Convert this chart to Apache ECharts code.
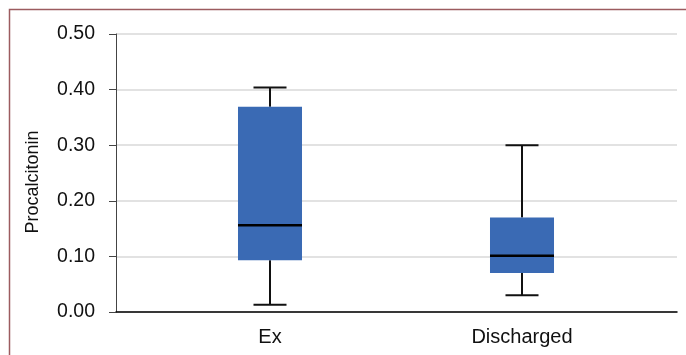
<!DOCTYPE html>
<html><head><meta charset="utf-8">
<script src="https://cdn.jsdelivr.net/npm/echarts@6/dist/echarts.min.js"></script>
<style>html,body{margin:0;padding:0;background:#fff;}#c{width:686px;height:355px;}</style>
</head><body><div id="c"></div>
<script>
const categories = ['Ex', 'Discharged'];
// [min, Q1, median, Q3, max]
const exStats = [0.013, 0.093, 0.156, 0.369, 0.404];
const dischargedStats = [0.030, 0.070, 0.101, 0.170, 0.300];
const yTicks = [0, 0.1, 0.2, 0.3, 0.4, 0.5];
const yTitle = 'Procalcitonin';

const boxData = [exStats, dischargedStats].map((s, i) => [i].concat(s));

const chart = echarts.init(document.getElementById('c'));
const FONT = 'Liberation Sans, Arial, sans-serif';
chart.setOption({
  animation: false,
  backgroundColor: '#fff',
  graphic: [{
    type: 'rect', shape: { x: 9.5, y: 9.5, width: 700, height: 400 },
    style: { fill: 'none', stroke: '#9c5b5f', lineWidth: 1.5 }, silent: true, z: 100
  }, {
    type: 'text', x: 33, y: 182, rotation: Math.PI / 2,
    style: { text: yTitle, fill: '#111', font: '18px Liberation Sans, Arial, sans-serif',
      textAlign: 'center', textVerticalAlign: 'middle', align: 'center', verticalAlign: 'middle' }
  }],
  grid: [
    { left: 116, right: 9, top: 34, bottom: 43 },
    { left: 144, right: 38, top: 34, bottom: 43 }
  ],
  xAxis: [
    { gridIndex: 0, type: 'value', min: 0, max: 1, show: true,
      axisLine: { show: true, onZero: false, lineStyle: { color: '#000', width: 1.5 } },
      axisTick: { show: false }, axisLabel: { show: false }, splitLine: { show: false } },
    { gridIndex: 1, type: 'category', data: categories, boundaryGap: true,
      axisLine: { show: false }, axisTick: { show: false },
      axisLabel: { color: '#111', fontSize: 20, fontFamily: FONT, margin: 15 } }
  ],
  yAxis: [
    { gridIndex: 0, type: 'value', min: 0, max: 0.5, interval: 0.1,
      axisLine: { show: true, lineStyle: { color: '#444', width: 1 } },
      axisTick: { show: true, length: 7, lineStyle: { color: '#444' } },
      axisLabel: { color: '#111', fontSize: 19.5, fontFamily: FONT, margin: 21,
        formatter: v => v.toFixed(2) },
      splitLine: { show: true, lineStyle: { color: '#d9d9d9', width: 1.5 } } },
    { gridIndex: 1, type: 'value', min: 0, max: 0.5, show: false, splitLine: { show: false } }
  ],
  series: [{
    type: 'custom', xAxisIndex: 1, yAxisIndex: 1,
    data: boxData,
    renderItem: function (params, api) {
      const idx = api.value(0);
      const mn = api.value(1), q1 = api.value(2), md = api.value(3), q3 = api.value(4), mx = api.value(5);
      const band = api.size([1, 0])[0];
      const bw = band * 0.254, cw = band * 0.131;
      const pMin = api.coord([idx, mn]), pQ1 = api.coord([idx, q1]), pMd = api.coord([idx, md]);
      const pQ3 = api.coord([idx, q3]), pMax = api.coord([idx, mx]);
      const cx = pMin[0];
      const ls = { stroke: '#111', lineWidth: 2 };
      return { type: 'group', children: [
        { type: 'line', shape: { x1: cx, y1: pMax[1], x2: cx, y2: pQ3[1] }, style: ls },
        { type: 'line', shape: { x1: cx, y1: pQ1[1], x2: cx, y2: pMin[1] }, style: ls },
        { type: 'line', shape: { x1: cx - cw / 2, y1: pMax[1], x2: cx + cw / 2, y2: pMax[1] }, style: ls },
        { type: 'line', shape: { x1: cx - cw / 2, y1: pMin[1], x2: cx + cw / 2, y2: pMin[1] }, style: ls },
        { type: 'rect', shape: { x: cx - bw / 2, y: pQ3[1], width: bw, height: pQ1[1] - pQ3[1] },
          style: { fill: '#3a6ab4' } },
        { type: 'line', shape: { x1: cx - bw / 2, y1: pMd[1], x2: cx + bw / 2, y2: pMd[1] },
          style: { stroke: '#000', lineWidth: 2.5 } }
      ]};
    }
  }]
});
</script></body></html>
